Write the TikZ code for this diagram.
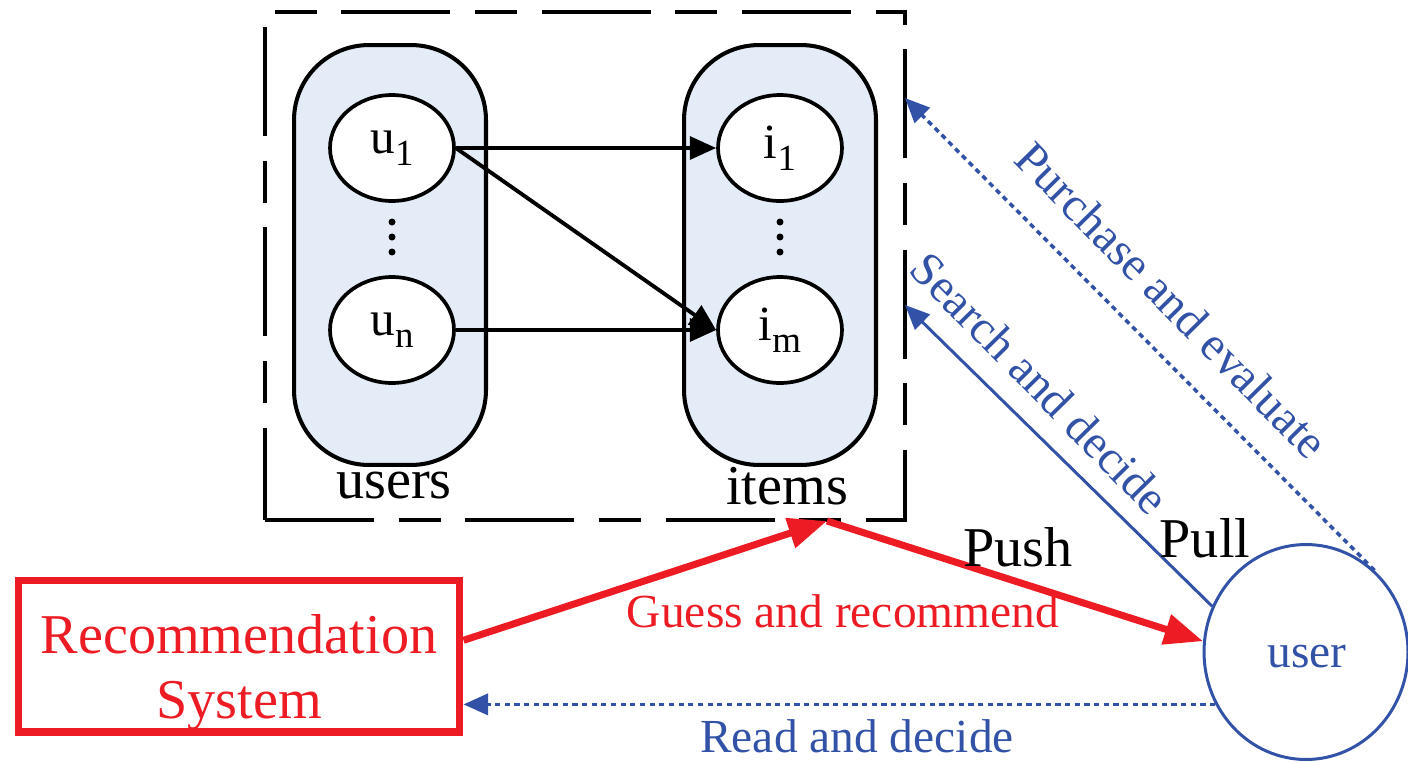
\documentclass[tikz,border=0pt]{standalone}
\usepackage{fontspec}
\setmainfont{Liberation Serif}
\usetikzlibrary{arrows.meta,shapes.geometric}
\definecolor{recred}{RGB}{237,28,36}
\definecolor{userblue}{RGB}{50,82,168}
\definecolor{setfill}{RGB}{228,236,247}
\newcommand{\lowsub}[1]{\raisebox{-0.55ex}{\fontsize{21}{21}\selectfont #1}}
\tikzset{
  frame/.style={draw, line width=2.2pt, dash pattern=on 62pt off 14pt on 24pt off 14pt,
    minimum width=12.8cm, minimum height=10.16cm, inner sep=0pt},
  setbox/.style={draw, line width=2.3pt, fill=setfill, rounded corners=1.5cm,
    minimum width=3.84cm, minimum height=8.4cm},
  elem/.style={draw, ellipse, line width=2.1pt, fill=white, inner sep=0pt,
    minimum width=2.48cm, minimum height=2.12cm, font=\fontsize{28}{30}\selectfont},
  link/.style={line width=2.2pt, -{Triangle[length=15pt,width=13pt]}},
  biglabel/.style={font=\fontsize{32}{36}\selectfont},
  smalllabel/.style={font=\fontsize{27}{30}\selectfont},
  recbox/.style={draw=recred, line width=4pt, minimum width=8.84cm, minimum height=3.04cm},
  rectext/.style={text=recred, align=center, font=\fontsize{32}{37}\selectfont},
  userball/.style={draw=userblue, ellipse, line width=1.7pt,
    minimum width=4.08cm, minimum height=4.3cm},
  push/.style={recred, line width=4pt, -{Triangle[length=22pt,width=17pt]}},
  pull/.style={userblue, line width=1.7pt, -{Triangle[length=14pt,width=12pt]}},
  dots/.style={line width=2pt, dash pattern=on 3pt off 2.5pt}
}
\begin{document}
\begin{tikzpicture}[x=0.02cm, y=-0.02cm]
  \useasboundingbox (0,0) rectangle (1408,761);
  \node[frame] (frame) at (585,266) {};
  \node[setbox] (users) at (390,255) {};
  \node[setbox] (items) at (780,255) {};
  \node[elem] (u1) at (392,148) {u\lowsub{1}};
  \node[elem] (un) at (392,330) {u\lowsub{n}};
  \node[elem] (i1) at (780,148) {i\lowsub{1}};
  \node[elem] (im) at (780,330) {i\lowsub{m}};
  \foreach \y in {222,237,252} {
    \fill (392,\y) circle (0.07cm);
    \fill (780,\y) circle (0.07cm);
  }
  \draw[link] (u1.east) -- (i1.west);
  \draw[link] (u1.east) -- (im.west);
  \draw[link] (un.east) -- (im.west);
  \node[biglabel, anchor=base] (userslabel) at (394,498) {users};
  \node[biglabel, anchor=base] (itemslabel) at (787,504) {items};
  \node[recbox] (rs) at (239,656) {};
  \node[rectext] (rstext) at (239,673) {Recommendation\\System};
  \node[userball] (user) at (1306,652) {};
  \node[smalllabel, text=userblue, anchor=base] (usertext) at (1307,667) {user};
  \coordinate (hub) at (827,521);
  \coordinate (buy) at (905,98);
  \coordinate (seek) at (905,305);
  \draw[push] (rs.4) -- (hub);
  \draw[push] (hub) -- (user.174);
  \draw[pull] (user.154) -- (seek);
  \draw[pull, dots] (user.50) -- (buy);
  \draw[pull, dots] (user.210) -- (user.210 -| rs.east);
  \node[smalllabel, text=recred, anchor=base] (guess) at (843,627) {Guess and recommend};
  \node[biglabel, anchor=base] (pushlabel) at (1018,566) {Push};
  \node[biglabel, anchor=base] (pulllabel) at (1205,557) {Pull};
  \node[smalllabel, text=userblue, anchor=base] (read) at (857,752) {Read and decide};
  \node[smalllabel, text=userblue, rotate=-45.5] (purchase) at (1172,300) {Purchase and evaluate};
  \node[smalllabel, text=userblue, rotate=-45.5] (search) at (1040,383) {Search and decide};
\end{tikzpicture}
\end{document}
